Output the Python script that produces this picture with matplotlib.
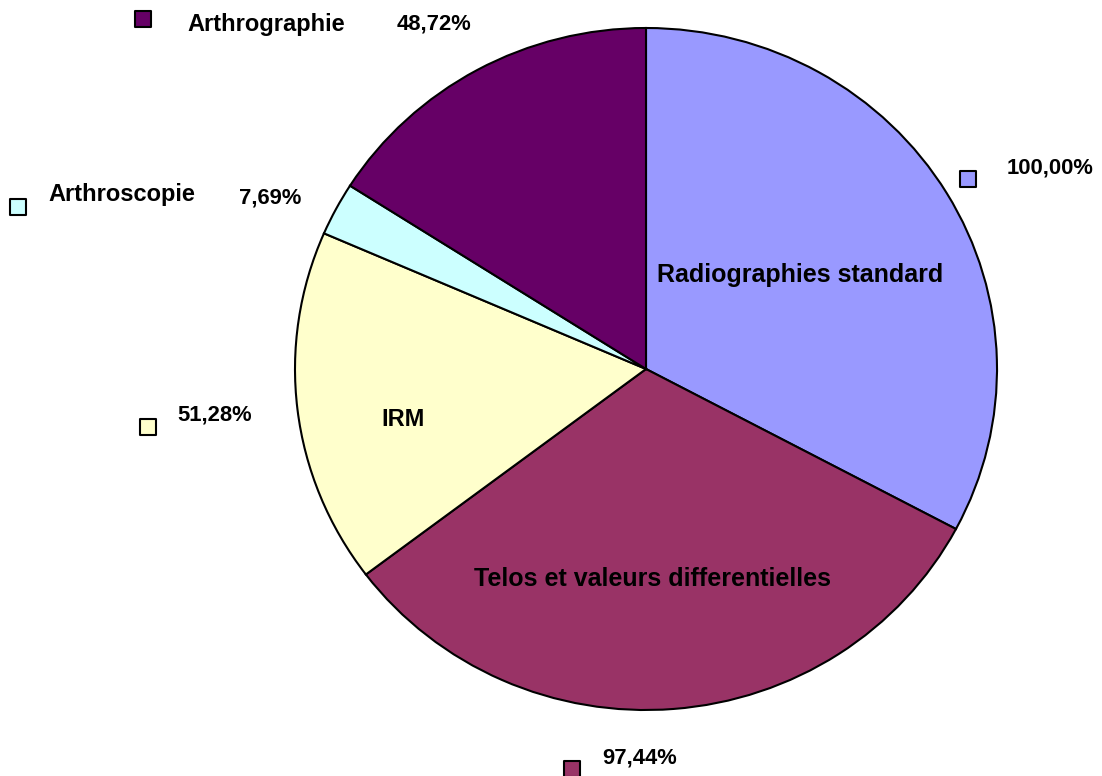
import matplotlib
matplotlib.use("Agg")
import matplotlib.pyplot as plt

plt.rcParams['font.family'] = ['Liberation Sans', 'DejaVu Sans']

categories = ['Radiographies standard', 'Telos et valeurs differentielles', 'IRM',
              'Arthroscopie', 'Arthrographie']
values = [100.00, 97.44, 51.28, 7.69, 48.72]
colors = ['#9999FF', '#993366', '#FFFFCC', '#CCFFFF', '#660066']

W, H = 1102, 776
fig = plt.figure(figsize=(W / 100, H / 100), dpi=100)

# pie axes (the pie is slightly squashed in the original)
left, right, top, bottom = 295, 997, 28, 710
ax = fig.add_axes([left / W, 1 - bottom / H, (right - left) / W, (bottom - top) / H])
ax.pie(values, colors=colors, startangle=90, counterclock=False,
       wedgeprops=dict(edgecolor='black', linewidth=1.5))
ax.set_aspect('auto')
ax.set_xlim(-1, 1)
ax.set_ylim(-1, 1)
ax.axis('off')

# overlay in pixel coordinates for labels and small squares
ov = fig.add_axes([0, 0, 1, 1])
ov.set_xlim(0, W)
ov.set_ylim(H, 0)
ov.axis('off')

# (square x, square y, pct text x, pct text y)
sq_pos = [(968, 179, 1007, 168), (572, 769, 602, 758), (148, 427, 177, 415),
          (18, 207, 239, 198), (143, 19, 397, 24)]
for (sx, sy, tx, ty), v, c in zip(sq_pos, values, colors):
    ov.scatter([sx], [sy], marker='s', s=140, color=c, edgecolors='black', linewidths=1.5)
    ov.text(tx, ty, f"{v:.2f}%".replace('.', ','), fontsize=15.8, fontweight='bold',
            ha='left', va='center')

# category names
ov.text(800, 275, categories[0], fontsize=18, fontweight='bold', ha='center', va='center')
ov.text(652, 579, categories[1], fontsize=18, fontweight='bold', ha='center', va='center')
ov.text(403, 420, categories[2], fontsize=17, fontweight='bold', ha='center', va='center')
ov.text(48, 194, categories[3], fontsize=17, fontweight='bold', ha='left', va='center')
ov.text(187, 25, categories[4], fontsize=17, fontweight='bold', ha='left', va='center')

fig.savefig('out.png', dpi=100)
